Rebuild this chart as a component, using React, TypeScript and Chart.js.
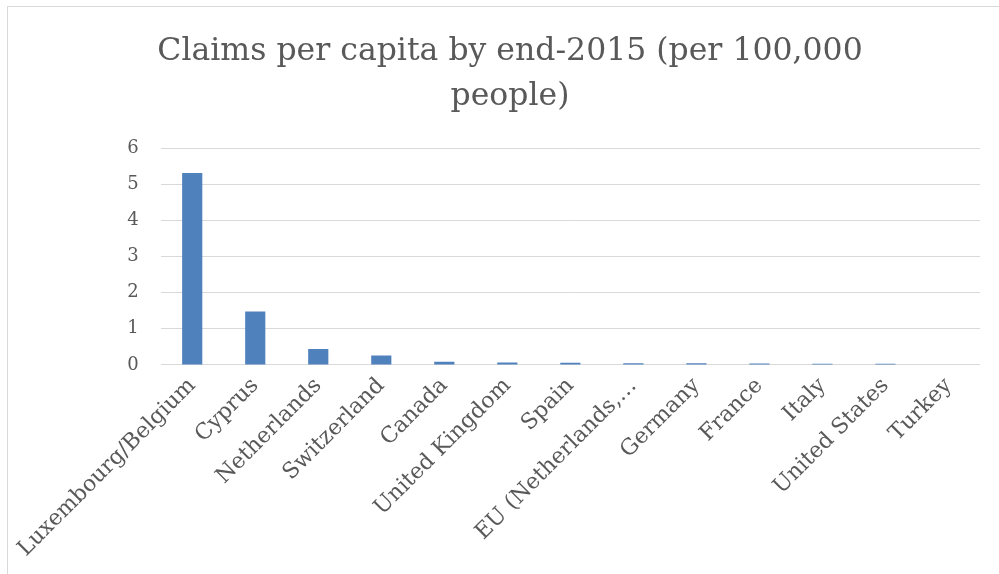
import React, { useEffect, useRef } from "react";
import { Chart, registerables } from "chart.js";

Chart.register(...registerables);

const categories = [
  "Luxembourg/Belgium",
  "Cyprus",
  "Netherlands",
  "Switzerland",
  "Canada",
  "United Kingdom",
  "Spain",
  "EU (Netherlands,…",
  "Germany",
  "France",
  "Italy",
  "United States",
  "Turkey",
];
const claimsPerCapita = [5.31, 1.48, 0.44, 0.26, 0.09, 0.07, 0.06, 0.05, 0.05, 0.04, 0.03, 0.03, 0.01];
const titleLines = ["Claims per capita by end-2015 (per 100,000", "people)"];
const yTicks = [0, 1, 2, 3, 4, 5, 6];

const FONT = "'DejaVu Serif', 'Liberation Serif', serif";
const TEXT = "#595959";

export default function App() {
  const ref = useRef<HTMLCanvasElement | null>(null);
  useEffect(() => {
    document.body.style.margin = "0";
    const ctx = ref.current!;
    const chart = new Chart(ctx, {
      type: "bar",
      data: {
        labels: categories,
        datasets: [
          {
            data: claimsPerCapita,
            backgroundColor: "#4f81bd",
            borderWidth: 0,
            barPercentage: 0.32,
            categoryPercentage: 1,
          },
        ],
      },
      options: {
        animation: false,
        responsive: false,
        devicePixelRatio: 1,
        layout: { padding: { left: 32, right: 34, top: 0, bottom: 4 } },
        plugins: {
          legend: { display: false },
          tooltip: { enabled: false },
          title: {
            display: true,
            text: titleLines,
            color: TEXT,
            font: { family: FONT, size: 31.5, weight: "normal", lineHeight: 1.43 },
            padding: { top: 22, bottom: 29 },
          },
        },
        scales: {
          x: {
            grid: { display: false, drawTicks: false },
            border: { display: false },
            ticks: {
              color: TEXT,
              font: { family: FONT, size: 22 },
              minRotation: 45,
              maxRotation: 45,
              autoSkip: false,
              padding: 8,
            },
          },
          y: {
            min: 0,
            max: 6,
            afterBuildTicks: (axis: any) => {
              axis.ticks = yTicks.map((v) => ({ value: v }));
            },
            afterFit: (axis: any) => {
              axis.width = 120;
            },
            grid: { color: "#d9d9d9", lineWidth: 1, drawTicks: false },
            border: { display: false },
            ticks: {
              color: TEXT,
              font: { family: FONT, size: 18 },
              padding: 22,
            },
          },
        },
      },
    });
    return () => chart.destroy();
  }, []);
  return (
    <div style={{ position: "fixed", left: 0, top: 0, width: 999, height: 574, overflow: "hidden", background: "#fff" }}>
      <div
        style={{
          position: "absolute",
          left: 7,
          top: 6,
          width: 1008,
          height: 580,
          border: "1px solid #d9d9d9",
        }}
      >
        <canvas ref={ref} width={1006} height={567} style={{ display: "block" }} />
      </div>
    </div>
  );
}
